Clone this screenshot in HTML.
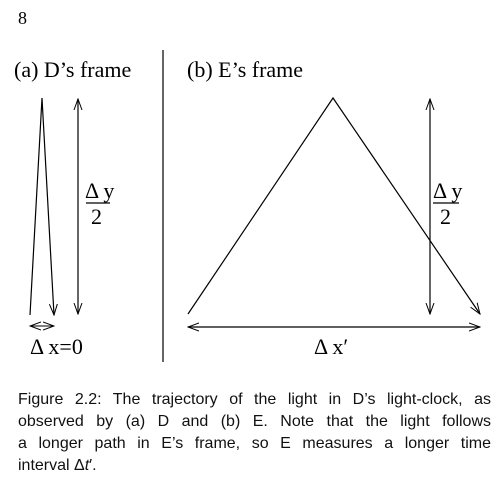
<!DOCTYPE html>
<html><head><meta charset="utf-8"><style>
body{margin:0;background:#fff;width:498px;height:488px;overflow:hidden;position:relative}
.t{position:absolute;font-family:"Liberation Serif",serif;color:#000}
.cap{position:absolute;left:18px;top:389px;width:473px;font-family:"Liberation Sans",sans-serif;font-size:16px;line-height:22px;color:#111}
.cap div{text-align:justify;text-align-last:justify;white-space:nowrap;height:22px}
.cap div.last{text-align-last:left}
</style></head><body>
<div class="t" style="left:18px;top:8px;font-size:18px">8</div>
<svg width="498" height="488" style="position:absolute;left:0;top:0">
<defs><marker id="ah" markerWidth="12" markerHeight="10" refX="11" refY="5" orient="auto" markerUnits="userSpaceOnUse"><path d="M0,1 L11,5 L0,9" fill="none" stroke="#000" stroke-width="1"/></marker></defs>
<g stroke="#000" stroke-width="1.2" fill="none">
<line x1="163" y1="50" x2="163" y2="362"/>
<polyline points="30,315 42,98 54,315" marker-end="url(#ah)"/>
<line x1="78" y1="206" x2="78" y2="99" marker-end="url(#ah)"/>
<line x1="78" y1="206" x2="78" y2="314" marker-end="url(#ah)"/>
<line x1="42" y1="326" x2="30" y2="326" marker-end="url(#ah)" style="stroke-width:1"/>
<line x1="42" y1="326" x2="54" y2="326" marker-end="url(#ah)" style="stroke-width:1"/>
<line x1="86" y1="203" x2="110" y2="203"/>
<polyline points="188,314 333,98 480,314" marker-end="url(#ah)"/>
<line x1="430" y1="206" x2="430" y2="99" marker-end="url(#ah)"/>
<line x1="430" y1="206" x2="430" y2="314" marker-end="url(#ah)"/>
<line x1="334" y1="327" x2="188" y2="327" marker-end="url(#ah)"/>
<line x1="334" y1="327" x2="480" y2="327" marker-end="url(#ah)"/>
<line x1="433" y1="203" x2="459" y2="203"/>
</g>
<g font-family="Liberation Serif,serif" font-size="22" fill="#000">
<text x="14" y="77">(a) D’s frame</text>
<text x="187" y="77">(b) E’s frame</text>
<text x="85" y="198">Δ y</text>
<text x="91" y="224">2</text>
<text x="433" y="198">Δ y</text>
<text x="440" y="224">2</text>
<text x="30" y="354">Δ x=0</text>
<text x="314" y="354">Δ x′</text>
</g>
</svg>
<div class="cap">
<div>Figure 2.2: The trajectory of the light in D’s light-clock, as</div>
<div>observed by (a) D and (b) E. Note that the light follows</div>
<div>a longer path in E’s frame, so E measures a longer time</div>
<div class="last">interval Δ<i>t</i>′.</div>
</div>
</body></html>
